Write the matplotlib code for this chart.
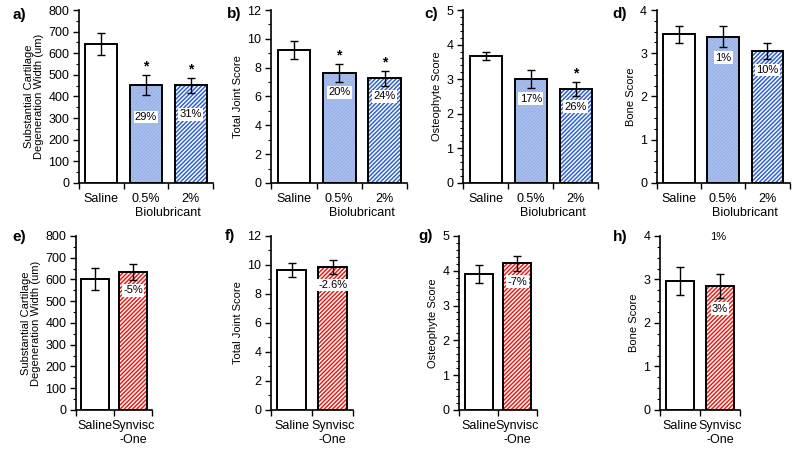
import matplotlib
matplotlib.use("Agg")
import matplotlib.pyplot as plt
from matplotlib.ticker import MultipleLocator, FixedLocator, NullFormatter, FixedFormatter

plt.rcParams['font.family'] = ['Liberation Sans', 'DejaVu Sans']
plt.rcParams['hatch.linewidth'] = 1.1

# ---- data ----
groups_bio = ["Saline", "0.5%", "2%"]
groups_syn = ["Saline", "Synvisc\n-One"]

cart_bio = [643, 452, 452]
cart_bio_err = [51, 46, 35]
cart_bio_pct = ["", "29%", "31%"]
cart_bio_star = [False, True, True]

joint_bio = [9.23, 7.65, 7.25]
joint_bio_err = [0.62, 0.62, 0.5]
joint_bio_pct = ["", "20%", "24%"]
joint_bio_star = [False, True, True]

osteo_bio = [3.68, 3.0, 2.71]
osteo_bio_err = [0.12, 0.26, 0.2]
osteo_bio_pct = ["", "17%", "26%"]
osteo_bio_star = [False, False, True]

bone_bio = [3.44, 3.38, 3.05]
bone_bio_err = [0.2, 0.24, 0.19]
bone_bio_pct = ["", "1%", "10%"]
bone_bio_star = [False, False, False]

cart_syn = [602, 636]
cart_syn_err = [51, 37]
cart_syn_pct = ["", "-5%"]

joint_syn = [9.66, 9.84]
joint_syn_err = [0.5, 0.5]
joint_syn_pct = ["", "-2.6%"]

osteo_syn = [3.90, 4.21]
osteo_syn_err = [0.25, 0.22]
osteo_syn_pct = ["", "-7%"]

bone_syn = [2.96, 2.85]
bone_syn_err = [0.32, 0.28]
bone_syn_pct = ["", "3%"]

# ---- styles ----
saline = dict(face="white", hatch=None, hcolor="black")
bio05 = dict(face="#b4c8f0", hatch="/" * 10, hcolor="#98b1e6")
bio2 = dict(face="white", hatch="/" * 8, hcolor="#3062d0")
syn = dict(face="white", hatch="/" * 8, hcolor="#e8201a")

fig = plt.figure(figsize=(8, 4.63), dpi=100)


def panel(rect, groups, means, errs, styles, pcts, stars, ymax, major, minor,
          ylabel, letter, letter_xy, pct_off=-4, xlabel2=None):
    ax = fig.add_axes(rect)
    n = len(groups)
    xs = [i + 0.5 for i in range(n)]
    for x, m, st in zip(xs, means, styles):
        if st["hatch"]:
            ax.bar(x, m, width=0.72, color=st["face"], edgecolor=st["hcolor"],
                   hatch=st["hatch"], linewidth=0, zorder=2)
        else:
            ax.bar(x, m, width=0.72, color=st["face"], linewidth=0, zorder=2)
        ax.bar(x, m, width=0.72, fill=False, edgecolor="black", linewidth=1.4, zorder=3)
    ax.errorbar(xs, means, yerr=errs, fmt="none", ecolor="black", elinewidth=1.0,
                capsize=3, capthick=1.0, zorder=4)
    for x, m, e, p in zip(xs, means, errs, pcts):
        if p:
            ax.annotate(p, xy=(x, m - e), xytext=(0, pct_off), textcoords="offset points",
                        ha="center", va="top", fontsize=8, zorder=5,
                        bbox=dict(boxstyle="square,pad=0.12", fc="white", ec="none"))
    if stars:
        for x, m, e, s in zip(xs, means, errs, stars):
            if s:
                ax.annotate("*", xy=(x, m + e), xytext=(0, 1), textcoords="offset points",
                            ha="center", va="bottom", fontsize=10, fontweight="bold")
    ax.set_xlim(0, n)
    ax.set_ylim(0, ymax)
    ax.xaxis.set_major_locator(FixedLocator(range(n + 1)))
    ax.xaxis.set_major_formatter(NullFormatter())
    ax.xaxis.set_minor_locator(FixedLocator(xs))
    ax.xaxis.set_minor_formatter(FixedFormatter(groups))
    ax.tick_params(axis="x", which="major", direction="out", length=4, width=1)
    ax.tick_params(axis="x", which="minor", length=0, pad=7, labelsize=9)
    ax.yaxis.set_major_locator(MultipleLocator(major))
    ax.yaxis.set_minor_locator(MultipleLocator(minor))
    ax.tick_params(axis="y", which="major", direction="out", length=4, width=1,
                   labelsize=9, pad=3)
    ax.tick_params(axis="y", which="minor", direction="out", length=2.5, width=0.8)
    for side in ("top", "right"):
        ax.spines[side].set_visible(False)
    for side in ("left", "bottom"):
        ax.spines[side].set_linewidth(1.2)
    ax.set_ylabel(ylabel, fontsize=8, labelpad=3, linespacing=1.05)
    if xlabel2:
        ax.text(2.0, -0.175, xlabel2, transform=ax.get_xaxis_transform(),
                ha="center", va="center", fontsize=9)
    fig.text(letter_xy[0], letter_xy[1], letter, fontsize=11, fontweight="bold",
             ha="left", va="center")
    return ax


cart_label = "Substantial Cartilage\nDegeneration Width (um)"
top_styles = [saline, bio05, bio2]
bot_styles = [saline, syn]

panel([0.0988, 0.6048, 0.1675, 0.3736], groups_bio, cart_bio, cart_bio_err, top_styles,
      cart_bio_pct, cart_bio_star, 800, 100, 50, cart_label, "a)", (0.016, 0.968),
      pct_off=-12, xlabel2="Biolubricant")
panel([0.339, 0.6048, 0.170, 0.3736], groups_bio, joint_bio, joint_bio_err, top_styles,
      joint_bio_pct, joint_bio_star, 12, 2, 1, "Total Joint Score", "b)", (0.284, 0.970),
      xlabel2="Biolubricant")
panel([0.579, 0.6048, 0.169, 0.3736], groups_bio, osteo_bio, osteo_bio_err, top_styles,
      osteo_bio_pct, osteo_bio_star, 5, 1, 0.2, "Osteophyte Score", "c)", (0.531, 0.970),
      xlabel2="Biolubricant")
panel([0.821, 0.6048, 0.166, 0.3736], groups_bio, bone_bio, bone_bio_err, top_styles,
      bone_bio_pct, bone_bio_star, 4, 1, 0.25, "Bone Score", "d)", (0.766, 0.970),
      xlabel2="Biolubricant")

panel([0.095, 0.1145, 0.095, 0.376], groups_syn, cart_syn, cart_syn_err, bot_styles,
      cart_syn_pct, None, 800, 100, 50, cart_label, "e)", (0.016, 0.488))
panel([0.339, 0.1145, 0.1025, 0.376], groups_syn, joint_syn, joint_syn_err, bot_styles,
      joint_syn_pct, None, 12, 2, 1, "Total Joint Score", "f)", (0.281, 0.490))
panel([0.574, 0.1145, 0.097, 0.376], groups_syn, osteo_syn, osteo_syn_err, bot_styles,
      osteo_syn_pct, None, 5, 1, 0.2, "Osteophyte Score", "g)", (0.5225, 0.490))
axh = panel([0.825, 0.1145, 0.100, 0.376], groups_syn, bone_syn, bone_syn_err, bot_styles,
            bone_syn_pct, None, 4, 1, 0.25, "Bone Score", "h)", (0.766, 0.488))
axh.text(1.45, 3.98, "1%", ha="center", va="center", fontsize=8)

fig.savefig("out.png", dpi=100)
